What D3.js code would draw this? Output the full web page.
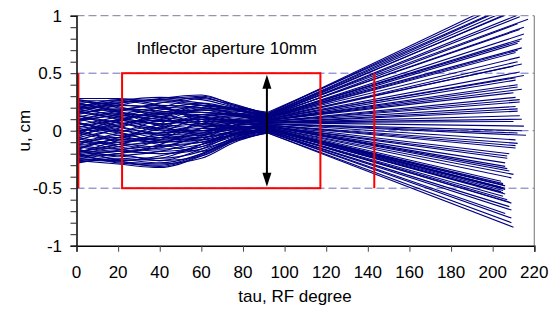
<!DOCTYPE html>
<html><head><meta charset="utf-8">
<script src="https://cdn.jsdelivr.net/npm/d3@7"></script>
<style>
html,body{margin:0;padding:0;background:#fff;}
svg{display:block;font-family:"Liberation Sans",Arial,sans-serif;}
</style></head>
<body>
<svg id="chart" width="558" height="313"></svg>
<script>
// ---- data ----
const tauKnots = [1, 20, 40, 60, 76, 92];
const preU = [
 [0.05, 0.12, 0.20, 0.28, 0.22, 0.15],
 [-0.10, -0.02, 0.10, 0.22, 0.20, 0.16],
 [0.22, 0.25, 0.27, 0.30, 0.23, 0.14],
 [0.26, 0.20, 0.15, 0.18, 0.17, 0.13],
 [-0.18, -0.12, -0.02, 0.12, 0.15, 0.14],
 [0.14, 0.22, 0.28, 0.31, 0.22, 0.13],
 [0.00, 0.05, 0.12, 0.20, 0.18, 0.14],
 [0.18, 0.14, 0.10, 0.14, 0.15, 0.12],
 [-0.22, -0.20, -0.12, 0.02, 0.10, 0.13],
 [0.28, 0.28, 0.25, 0.22, 0.18, 0.12],
 [0.10, 0.03, -0.02, 0.06, 0.12, 0.12],
 [-0.05, 0.08, 0.18, 0.24, 0.19, 0.11],
 [0.20, 0.26, 0.29, 0.27, 0.20, 0.12],
 [-0.14, -0.18, -0.15, -0.04, 0.07, 0.11],
 [0.07, 0.00, 0.05, 0.12, 0.14, 0.11],
 [0.24, 0.17, 0.08, 0.10, 0.13, 0.10],
 [-0.26, -0.22, -0.18, -0.08, 0.05, 0.11],
 [0.12, 0.18, 0.22, 0.20, 0.16, 0.10],
 [-0.02, -0.08, -0.04, 0.05, 0.10, 0.10],
 [0.16, 0.10, 0.02, 0.00, 0.07, 0.09],
 [-0.08, 0.02, 0.14, 0.16, 0.14, 0.09],
 [0.25, 0.23, 0.19, 0.16, 0.13, 0.09],
 [-0.20, -0.14, -0.08, -0.02, 0.05, 0.09],
 [0.03, 0.09, 0.16, 0.18, 0.13, 0.08],
 [-0.12, -0.10, -0.06, 0.02, 0.07, 0.08],
 [0.21, 0.12, 0.06, 0.08, 0.09, 0.08],
 [-0.24, -0.26, -0.22, -0.12, 0.00, 0.07],
 [0.09, 0.15, 0.12, 0.08, 0.08, 0.07],
 [-0.04, 0.04, 0.08, 0.10, 0.09, 0.07],
 [0.19, 0.24, 0.26, 0.22, 0.14, 0.07],
 [-0.16, -0.06, 0.03, 0.06, 0.07, 0.06],
 [0.27, 0.21, 0.12, 0.04, 0.05, 0.06],
 [-0.28, -0.24, -0.26, -0.16, -0.03, 0.06],
 [0.06, 0.01, -0.06, -0.04, 0.03, 0.05],
 [-0.09, -0.16, -0.20, -0.14, -0.02, 0.05],
 [0.15, 0.19, 0.17, 0.12, 0.08, 0.05],
 [-0.20, -0.28, -0.30, -0.20, -0.06, 0.04],
 [0.02, -0.04, -0.10, -0.08, 0.00, 0.04],
 [-0.12, -0.04, -0.02, 0.00, 0.03, 0.04],
 [0.23, 0.16, 0.04, -0.02, 0.01, 0.04],
 [-0.26, -0.29, -0.32, -0.22, -0.08, 0.03],
 [0.11, 0.07, 0.00, 0.00, 0.02, 0.03],
 [-0.06, -0.12, -0.16, -0.12, -0.04, 0.03],
 [0.17, 0.11, 0.06, 0.02, 0.02, 0.02],
 [-0.18, -0.22, -0.24, -0.18, -0.06, 0.02],
 [-0.01, 0.06, 0.09, 0.06, 0.04, 0.02],
 [-0.23, -0.17, -0.13, -0.10, -0.03, 0.02],
 [0.08, 0.13, 0.10, 0.04, 0.03, 0.01],
 [-0.15, -0.08, -0.10, -0.06, -0.02, 0.01],
 [0.04, -0.02, -0.08, -0.06, -0.02, 0.01],
 [-0.27, -0.25, -0.28, -0.20, -0.08, 0.01],
 [0.13, 0.04, -0.03, -0.04, -0.01, 0.00],
 [-0.07, -0.14, -0.18, -0.14, -0.05, 0.00],
 [0.20, 0.27, 0.22, 0.08, 0.02, 0.00],
 [-0.21, -0.18, -0.20, -0.16, -0.07, -0.01],
 [-0.03, 0.10, 0.14, 0.06, 0.01, -0.01],
 [-0.25, -0.27, -0.29, -0.24, -0.10, -0.01],
 [0.01, -0.10, -0.14, -0.10, -0.04, -0.01],
 [-0.17, -0.20, -0.26, -0.22, -0.09, -0.02],
 [-0.11, -0.06, -0.12, -0.18, -0.08, -0.02],
 [-0.19, -0.08, 0.06, 0.19, 0.19, 0.15],
 [0.10, 0.17, 0.24, 0.29, 0.21, 0.14],
 [0.24, 0.18, 0.16, 0.22, 0.19, 0.13],
 [-0.13, -0.16, -0.08, 0.08, 0.13, 0.13],
 [0.16, 0.24, 0.27, 0.24, 0.18, 0.12],
 [-0.01, -0.06, 0.02, 0.14, 0.15, 0.11],
 [0.21, 0.16, 0.12, 0.18, 0.15, 0.10],
 [-0.24, -0.20, -0.14, -0.05, 0.05, 0.10],
 [0.09, 0.14, 0.20, 0.20, 0.15, 0.09],
 [0.26, 0.26, 0.21, 0.12, 0.09, 0.08],
 [-0.09, -0.12, -0.10, -0.02, 0.04, 0.07],
 [0.00, 0.08, 0.15, 0.14, 0.10, 0.07],
 [-0.21, -0.26, -0.24, -0.12, 0.00, 0.06],
 [0.18, 0.22, 0.20, 0.10, 0.06, 0.05],
 [-0.06, 0.00, -0.04, -0.06, 0.00, 0.04],
 [0.13, 0.07, 0.01, -0.03, 0.01, 0.04],
 [-0.16, -0.26, -0.31, -0.21, -0.07, 0.02],
 [0.03, 0.09, 0.05, 0.00, 0.01, 0.02],
 [-0.19, -0.12, -0.06, -0.08, -0.03, 0.01],
 [0.07, -0.01, -0.09, -0.10, -0.04, 0.00]
];
const endTau = [214,216,213,215,212,214,217,212,213,215,214,212,214,211,213,212,210,213,215,211,
                212,214,210,211,213,211,212,213,210,215,214,216,211,212,211,208,207,206,206,208,
                210,209,204,205,206,204,205,206,205,204,206,205,207,209,208,209,206,209,209,210,
                215,214,213,215,213,212,214,211,212,213,212,214,212,211,207,207,205,206,205,208];
const endU = [1.20,1.15,1.12,1.08,1.05,1.02,0.97,0.93,0.88,0.84,0.80,0.76,0.72,0.68,0.64,0.60,
              0.56,0.51,0.48,0.44,0.40,0.36,0.33,0.29,0.25,0.21,0.17,0.13,0.08,0.04,0.00,-0.04,
              -0.08,-0.11,-0.15,-0.20,-0.24,-0.28,-0.31,-0.35,-0.38,-0.41,-0.44,-0.46,-0.48,-0.49,
              -0.50,-0.51,-0.52,-0.53,-0.55,-0.57,-0.60,-0.63,-0.66,-0.69,-0.72,-0.76,-0.80,-0.84,
              1.18,1.10,0.99,0.90,0.78,0.70,0.58,0.46,0.38,0.27,0.19,0.10,-0.02,-0.13,-0.22,-0.33,
              -0.47,-0.50,-0.54,-0.62];
const xTickValues = [0,20,40,60,80,100,120,140,160,180,200,220];
const yTickValues = [-1,-0.5,0,0.5,1];
const yTickLabels = ["-1","-0.5","0","0.5","1"];
const gridValues = [-0.5,0,0.5];
const apertureU = [-0.5, 0.5];
const redLineTau = [0.9, 143.1];
const boxTau = [21.9, 117.2];
const arrowTau = 91.5;
const noteText = "Inflector aperture 10mm";
const xTitle = "tau, RF degree";
const yTitle = "u, cm";

// ---- layout ----
const svg = d3.select("#chart");
const X0 = 76.5, X1 = 534.3, Y0 = 245.7, Y1 = 15.7;
const x = d3.scaleLinear().domain([0,220]).range([X0,X1]);
const y = d3.scaleLinear().domain([-1,1]).range([Y0,Y1]);

svg.append("rect").attr("width",558).attr("height",313).attr("fill","#fff");

svg.append("defs").append("clipPath").attr("id","plotclip")
  .append("rect").attr("x",X0).attr("y",Y1).attr("width",X1-X0).attr("height",Y0-Y1);

// gridlines
svg.append("g").selectAll("line").data(gridValues).join("line")
  .attr("x1",X0).attr("x2",X1).attr("y1",d=>y(d)).attr("y2",d=>y(d))
  .attr("stroke","#6c6cc4").attr("stroke-width",1).attr("stroke-dasharray","8,4");
// top border (dashed)
svg.append("line").attr("x1",X0).attr("x2",X1).attr("y1",y(1)).attr("y2",y(1))
  .attr("stroke","#7d7d9e").attr("stroke-width",1).attr("stroke-dasharray","8,4");
// right border
svg.append("line").attr("x1",X1).attr("x2",X1).attr("y1",y(1)).attr("y2",y(-1))
  .attr("stroke","#888").attr("stroke-width",1.2);

// trajectories
const gT = svg.append("g").attr("clip-path","url(#plotclip)");
const preLine = d3.line().x(d=>x(d[0])).y(d=>y(d[1])).curve(d3.curveMonotoneX);
const postLine = d3.line().x(d=>x(d[0])).y(d=>y(d[1]));
preU.forEach((row,i)=>{
  const pts = row.map((u,k)=>[tauKnots[k],u]);
  gT.append("path").attr("d",preLine(pts))
    .attr("fill","none").attr("stroke","#000080").attr("stroke-width",1.1);
  gT.append("path").attr("d",postLine([[tauKnots[tauKnots.length-1],row[row.length-1]],[endTau[i],endU[i]]]))
    .attr("fill","none").attr("stroke","#000080").attr("stroke-width",1.1);
});

// red aperture marks
const gR = svg.append("g").attr("stroke","#ff0000").attr("stroke-width",2).attr("fill","none");
gR.selectAll("line").data(redLineTau).join("line")
  .attr("x1",d=>x(d)).attr("x2",d=>x(d)).attr("y1",y(apertureU[1])).attr("y2",y(apertureU[0]));
gR.append("rect").attr("x",x(boxTau[0])).attr("y",y(apertureU[1]))
  .attr("width",x(boxTau[1])-x(boxTau[0])).attr("height",y(apertureU[0])-y(apertureU[1]));

// double arrow
const ax = x(arrowTau), aTop = y(apertureU[1])+1.5, aBot = y(apertureU[0])-1.5;
svg.append("line").attr("x1",ax).attr("x2",ax).attr("y1",aTop+10).attr("y2",aBot-10)
  .attr("stroke","#000").attr("stroke-width",2);
svg.append("path").attr("d",`M${ax},${aTop} L${ax-4.5},${aTop+14} L${ax+4.5},${aTop+14} Z`).attr("fill","#000");
svg.append("path").attr("d",`M${ax},${aBot} L${ax-4.5},${aBot-14} L${ax+4.5},${aBot-14} Z`).attr("fill","#000");

// axes
const yAxis = d3.axisLeft(y).tickValues(d3.range(-10,11).map(v=>v/10)).tickSize(6).tickFormat("");
const gy = svg.append("g").attr("transform",`translate(${X0},0)`).call(yAxis);
gy.select(".domain").attr("stroke","#000").attr("stroke-width",1.5);
gy.selectAll(".tick line").attr("stroke","#222");
svg.append("g").selectAll("text").data(yTickValues).join("text")
  .attr("x",62).attr("y",d=>y(d)).attr("dy","0.36em").attr("text-anchor","end")
  .attr("font-size",17).attr("fill","#000").text((d,i)=>yTickLabels[i]);

const xAxis = d3.axisBottom(x).tickValues(xTickValues).tickSize(6).tickFormat("");
const gx = svg.append("g").attr("transform",`translate(0,${Y0})`).call(xAxis);
gx.select(".domain").attr("stroke","#000").attr("stroke-width",1.5);
gx.selectAll(".tick line").attr("stroke","#444");
svg.append("g").selectAll("text").data(xTickValues).join("text")
  .attr("x",d=>x(d)).attr("y",278).attr("text-anchor","middle")
  .attr("font-size",17).attr("fill","#000").text(d=>d);

// titles
svg.append("text").attr("x",295).attr("y",302).attr("text-anchor","middle")
  .attr("font-size",17).attr("fill","#000").text(xTitle);
svg.append("text").attr("transform",`translate(30,${y(0)}) rotate(-90)`).attr("text-anchor","middle")
  .attr("font-size",17).attr("fill","#000").text(yTitle);
svg.append("text").attr("x",136.5).attr("y",54).attr("font-size",17).attr("fill","#000").text(noteText);
</script>
</body></html>
